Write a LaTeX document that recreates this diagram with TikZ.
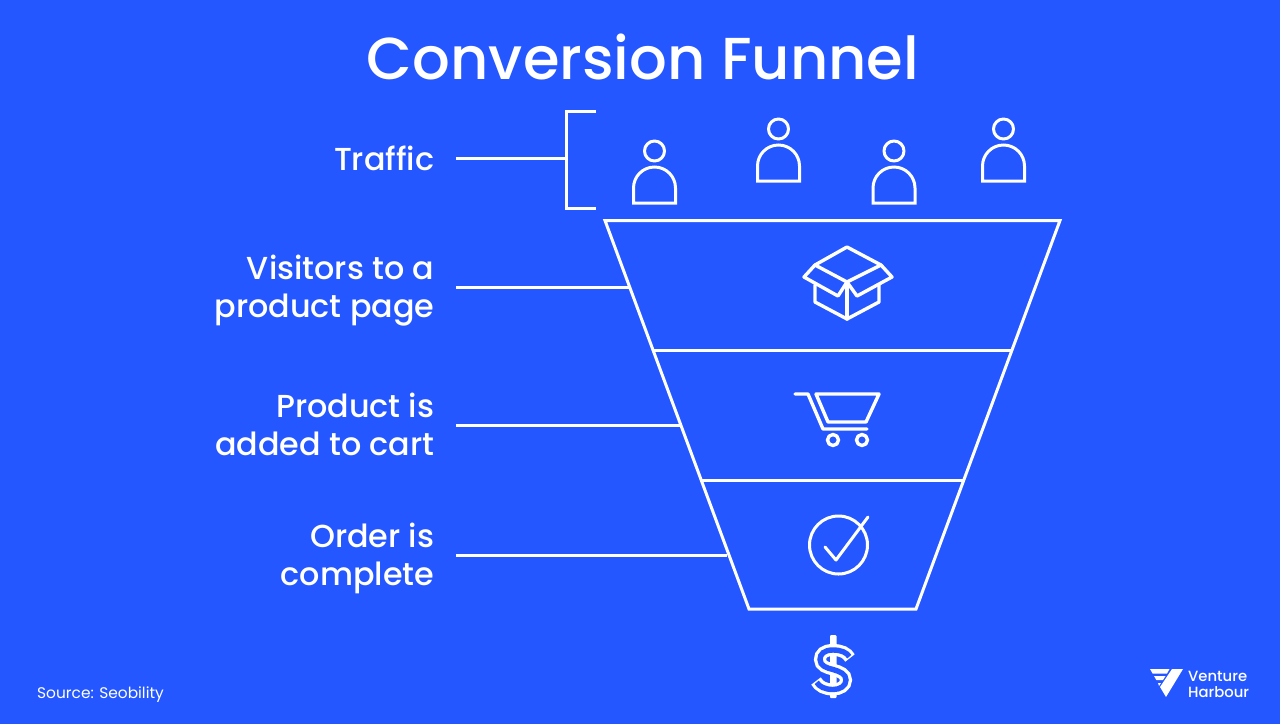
\documentclass[tikz,border=0pt]{standalone}
\usepackage{fontspec}
\setmainfont{Poppins}
\newfontfamily\medfont{Poppins Medium}
\definecolor{bgblue}{HTML}{2457FF}
\tikzset{
  x=1pt,y=-1pt,
  ln/.style={draw=white,line width=3pt,line join=miter},
  icon/.style={draw=white,line width=3.4pt,line join=round,line cap=round},
  lab/.style={text=white,font=\fontsize{31.8}{38}\selectfont\medfont,align=right,anchor=east,inner sep=0pt},
}
\begin{document}
\begin{tikzpicture}
\useasboundingbox (0,0) rectangle (1280,724);
\fill[bgblue] (0,0) rectangle (1280,724);
\node[text=white,font=\fontsize{59.2}{70}\selectfont\medfont,inner sep=0pt] (title) at (643,57) {Conversion Funnel};
% labels
\node[lab] (traffic) at (434.5,158) {Traffic};
\node[lab] (visitors) at (434.5,291) {Visitors to a\\product page};
\node[lab] (added) at (434.5,424.5) {Product is\\added to cart};
\node[lab] (order) at (434.5,558.5) {Order is\\complete};
\coordinate (t1) at (456,158.5); \coordinate (t2) at (566,158.5);
\coordinate (v1) at (456,287); \coordinate (v2) at (629,287);
\coordinate (a1) at (456,425.5); \coordinate (a2) at (680,425.5);
\coordinate (o1) at (456,555); \coordinate (o2) at (727,555);
\draw[ln] (t1) -- (t2);
\draw[ln] (v1) -- (v2);
\draw[ln] (a1) -- (a2);
\draw[ln] (o1) -- (o2);
% bracket
\draw[ln] (596,111) -- (566,111) -- (566,208) -- (596,208);
% funnel
\draw[ln] (605,220.5) -- (1060,220.5) -- (916,609) -- (749,609) -- cycle;
\draw[ln] (653,350.5) -- (1012,350.5);
\draw[ln] (702,480) -- (963,480);
% people
\foreach \px/\py in {654.5/203,778.5/181,894/203,1003.5/181}{
  \draw[icon,line width=3pt] (\px,\py-52) circle[radius=10];
  \draw[icon,line width=3pt,line join=miter] (\px-21,\py) -- (\px-21,\py-15) arc[start angle=180,end angle=360,radius=21] -- (\px+21,\py) -- cycle;
}
% box
\draw[icon] (847,247) -- (881,265) -- (847,282) -- (815,265) -- cycle;
\draw[icon] (815,265) -- (804,277) -- (838,296) -- (847,282) -- (857,296) -- (892,277) -- (881,265);
\draw[icon] (815,285) -- (815,302) -- (847,319) -- (879,302) -- (879,285);
\draw[icon] (847,282) -- (847,319);
% cart
\draw[icon] (795,394) -- (808,394) -- (823,429) -- (867,429);
\draw[icon] (816,394) -- (879,394) -- (866,422) -- (828,422) -- cycle;
\draw[icon] (833,440) circle[radius=5.5];
\draw[icon] (862,440) circle[radius=5.5];
% check
\draw[icon,line width=3pt] (838.5,545) circle[radius=29];
\draw[icon,line width=3pt] (825,547) -- (836,560) -- (868,517);
% dollar
\def\spath{(850,658) .. controls (847,652.5) and (841,650) .. (833,650) .. controls (824,650) and (820,654) .. (820,659.5) .. controls (820,666) and (827,668) .. (833,669.5) .. controls (840,671.5) and (846,674) .. (846,680) .. controls (846,686) and (840,689.5) .. (833,689.5) .. controls (825,689.5) and (819,686.5) .. (816,681)}
\fill[white,rounded corners=1pt] (830,635) rectangle (836.5,698);
\draw[white,line width=12pt] \spath;
\draw[bgblue,line width=5.4pt,shorten >=1.5pt,shorten <=1.5pt] \spath;
% source
\node[text=white,font=\fontsize{15.4}{18}\selectfont,anchor=west,inner sep=0pt] (source) at (37,695) {Source: Seobility};
% logo
\fill[white] (1172,669) -- (1183,669) -- (1166,697) -- (1160,687) -- cycle;
\fill[white] (1150,669) -- (1169.5,669) -- (1167,673.5) -- (1152.6,673.5) -- cycle;
\fill[white] (1154,676) -- (1165.5,676) -- (1163,680) -- (1156.3,680) -- cycle;
\fill[white] (1158,683) -- (1161,683) -- (1159,686) -- cycle;
\node[text=white,font=\fontsize{14.8}{16}\selectfont\medfont,align=left,anchor=west,inner sep=0pt] (logo) at (1188,684) {Venture\\Harbour};
\end{tikzpicture}
\end{document}
